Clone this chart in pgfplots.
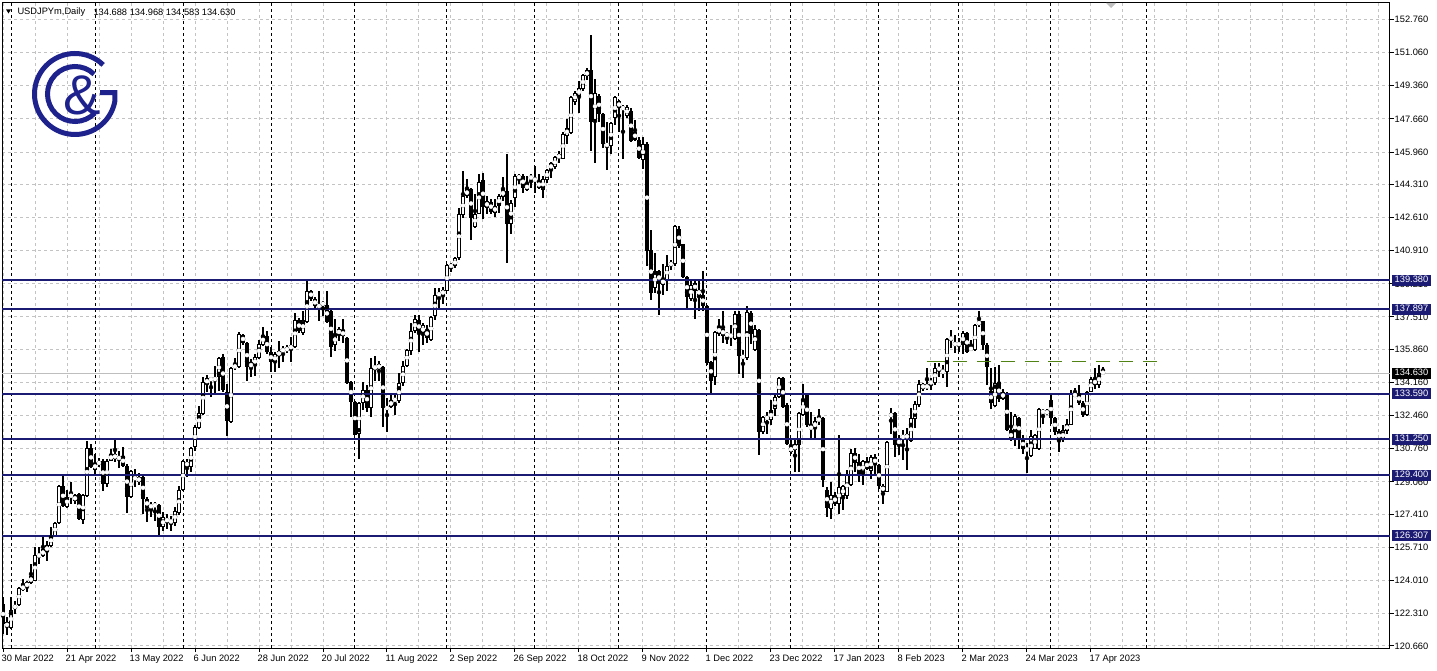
\documentclass[border=0pt]{standalone}
\usepackage{fontspec}
\setmainfont{Liberation Sans}
\usepackage{pgfplots}
\pgfplotsset{compat=1.18}
\usepackage{pgfplotstable}

\definecolor{lvl}{RGB}{27,27,115}
\definecolor{logoc}{RGB}{30,34,140}
\definecolor{grd}{RGB}{195,195,195}
\definecolor{grn}{RGB}{80,130,20}
\definecolor{pline}{RGB}{190,190,190}

\pgfplotstableread{
i o h l c
0 122.81 123.15 121.27 121.78
1 121.87 122.12 121.24 121.61
2 121.58 123.15 121.53 122.50
3 122.55 122.98 122.29 122.77
4 122.76 123.66 122.72 123.61
5 123.54 124.09 123.49 123.75
6 123.66 123.98 123.40 123.92
7 123.86 124.85 123.83 124.26
8 124.00 125.71 123.97 125.33
9 125.26 125.71 124.85 125.33
10 125.26 126.25 125.20 125.62
11 125.45 126.05 125.03 125.83
12 125.79 126.73 125.71 126.34
13 126.30 126.99 126.22 126.94
14 126.94 128.92 126.90 128.86
15 128.86 129.38 127.76 127.84
16 127.79 128.64 127.70 128.30
17 128.27 129.04 127.93 128.44
18 128.39 128.44 127.93 128.06
19 128.44 128.52 127.11 127.16
20 127.12 128.44 126.90 128.39
21 128.35 131.17 128.27 130.79
22 130.79 130.98 129.77 129.84
23 129.67 130.49 129.46 130.04
24 130.06 130.28 129.80 130.01
25 130.11 130.23 128.61 128.98
26 128.98 130.23 128.78 130.14
27 130.14 130.74 130.11 130.49
28 130.49 131.31 130.09 130.23
29 130.18 130.66 129.80 130.40
30 130.40 130.83 129.80 129.89
31 129.89 129.97 127.45 128.27
32 128.27 129.67 128.22 129.63
33 129.30 129.73 128.80 129.20
34 129.04 129.50 128.90 129.33
35 129.33 129.38 127.42 128.19
36 128.19 128.27 126.99 127.73
37 127.73 128.02 127.25 127.90
38 127.88 128.02 127.08 127.85
39 127.90 127.93 126.31 126.77
40 126.74 127.50 126.56 127.25
41 127.16 127.42 126.65 127.04
42 127.08 127.33 126.56 126.99
43 126.94 127.76 126.82 127.59
44 127.45 128.87 127.38 128.65
45 128.65 130.19 128.62 130.12
46 130.10 130.24 129.30 129.85
47 129.81 130.87 129.56 130.80
48 130.84 132.00 130.67 131.90
49 131.83 132.97 131.78 132.58
50 132.55 134.43 132.51 134.19
51 134.08 134.56 133.66 134.36
52 134.29 134.43 133.40 134.36
53 134.27 135.02 133.57 134.39
54 134.43 135.45 133.74 135.42
55 135.45 135.59 133.66 133.78
56 133.66 134.08 131.44 132.20
57 132.12 134.94 132.07 134.90
58 134.90 135.42 134.77 135.06
59 134.94 136.73 134.90 136.65
60 136.60 136.65 136.05 136.17
61 136.17 136.22 134.25 134.94
62 134.90 135.37 134.43 135.19
63 135.02 135.62 134.51 135.45
64 135.42 136.31 135.37 136.13
65 136.08 136.99 136.05 136.60
66 136.53 136.78 135.62 135.71
67 135.71 135.97 134.68 135.19
68 135.19 135.74 134.71 135.60
69 135.49 136.29 134.88 135.79
70 135.74 136.00 135.23 135.88
71 135.78 136.09 135.66 135.95
72 135.88 136.51 135.23 136.05
73 135.95 137.71 135.91 137.37
74 137.37 137.46 136.69 136.77
75 136.69 137.80 136.60 137.37
76 137.25 139.34 137.20 138.86
77 138.86 138.91 138.31 138.45
78 138.45 138.52 137.97 138.06
79 137.97 138.83 137.32 138.18
80 138.09 138.35 137.54 138.28
81 138.14 138.83 137.20 137.25
82 137.83 137.88 135.45 135.98
83 136.09 137.42 135.78 136.60
84 136.60 136.98 136.26 136.89
85 136.82 137.42 136.17 136.53
86 136.46 136.51 134.06 134.11
87 134.17 134.23 132.40 133.17
88 133.17 133.20 131.46 131.49
89 131.54 133.17 130.26 133.09
90 133.09 134.20 132.74 133.77
91 133.77 134.03 132.66 132.83
92 132.83 135.40 132.40 134.88
93 134.88 135.52 134.23 134.97
94 134.85 135.26 134.23 135.09
95 134.97 135.02 131.89 132.83
96 132.79 133.34 131.63 132.91
97 132.91 133.51 132.83 133.26
98 133.20 133.60 132.49 133.34
99 133.20 134.63 133.09 134.11
100 134.11 135.23 134.00 135.02
101 135.02 135.88 134.97 135.83
102 135.79 137.20 135.57 136.80
103 136.77 137.59 136.68 137.42
104 137.37 137.63 135.74 136.68
105 136.68 137.20 136.08 137.08
106 136.91 137.11 136.17 136.42
107 136.34 137.54 136.29 137.49
108 137.54 139.00 137.37 138.62
109 138.62 139.00 137.97 138.74
110 138.62 139.03 138.18 138.91
111 138.86 140.20 138.83 140.15
112 140.15 140.28 139.82 140.10
113 140.10 140.57 140.03 140.51
114 140.51 143.11 140.45 142.77
115 142.73 145.00 142.60 143.71
116 143.71 144.57 143.63 144.05
117 144.05 144.14 141.43 142.60
118 142.12 143.80 142.08 142.77
119 142.80 144.83 142.77 144.45
120 144.52 144.91 142.51 143.13
121 143.11 143.71 142.77 143.45
122 143.42 143.54 142.77 142.91
123 142.85 143.54 142.63 143.20
124 143.20 143.80 142.85 143.71
125 143.66 144.69 143.45 144.05
126 143.97 145.85 140.28 142.29
127 142.25 143.49 141.74 143.37
128 143.59 144.83 143.15 144.74
129 144.57 144.86 144.31 144.79
130 144.74 144.83 143.88 144.14
131 144.00 144.74 143.97 144.35
132 144.57 144.83 144.11 144.74
133 144.57 145.25 143.88 144.52
134 144.48 144.83 144.05 144.11
135 144.02 144.75 143.60 144.60
136 144.53 145.11 144.39 145.05
137 145.05 145.46 144.65 145.39
138 145.17 145.77 145.11 145.71
139 145.63 146.02 145.42 145.85
140 145.63 146.97 145.59 146.91
141 146.79 147.65 146.37 147.19
142 146.93 148.82 146.88 148.76
143 148.54 149.11 148.37 148.99
144 148.85 149.62 147.96 149.23
145 149.19 149.96 149.11 149.91
146 149.84 150.26 149.67 150.14
147 150.14 151.94 146.02 147.51
148 147.62 149.71 145.39 148.99
149 148.85 148.94 147.48 147.91
150 147.91 147.96 146.19 146.37
151 146.37 147.48 145.05 146.28
152 146.25 147.51 145.85 147.45
153 147.68 148.85 147.34 148.76
154 148.59 148.64 147.00 148.20
155 148.17 148.37 145.63 148.25
156 147.82 148.37 147.68 148.25
157 148.08 148.20 146.45 146.54
158 147.00 147.62 146.54 146.59
159 146.59 146.71 145.59 145.68
160 145.56 146.71 145.11 146.37
161 146.37 146.45 140.14 140.88
162 140.93 141.99 138.39 138.74
163 139.00 140.79 138.74 139.85
164 139.85 139.94 137.62 139.22
165 139.17 140.25 138.65 139.46
166 139.42 140.71 138.82 140.14
167 140.14 140.45 139.94 140.31
168 140.25 142.20 140.11 142.17
169 142.00 142.17 141.05 141.14
170 141.23 141.26 139.51 139.55
171 139.55 139.60 137.97 138.52
172 138.45 139.34 138.35 139.13
173 139.25 139.34 137.42 138.86
174 138.89 139.34 137.80 138.65
175 138.65 139.87 137.80 138.05
176 138.05 138.11 135.06 135.14
177 135.23 135.26 133.55 134.23
178 134.42 136.77 134.03 136.74
179 136.63 137.42 136.56 137.03
180 136.91 137.80 136.17 136.55
181 136.53 136.74 136.12 136.67
182 136.60 137.11 136.00 136.51
183 136.39 137.83 136.34 137.66
184 137.66 137.80 134.58 135.52
185 135.54 135.83 134.40 135.40
186 135.40 138.05 135.31 137.76
187 137.71 137.80 136.12 136.63
188 135.83 137.11 135.78 136.91
189 136.86 136.91 130.46 131.63
190 131.63 132.45 131.54 132.40
191 132.40 132.66 131.54 132.28
192 132.23 133.26 131.97 132.74
193 132.79 133.55 132.45 133.43
194 133.43 134.46 133.34 134.40
195 134.40 134.46 132.83 132.91
196 133.00 133.08 130.94 131.03
197 130.86 131.29 130.51 130.60
198 130.69 131.25 129.57 130.98
199 130.94 132.66 129.57 132.57
200 132.49 134.06 132.45 133.31
201 133.55 133.60 131.88 131.97
202 131.88 132.66 131.25 131.80
203 131.80 132.40 131.28 132.17
204 132.17 132.79 131.97 132.34
205 132.34 132.40 128.80 129.14
206 128.63 128.80 127.26 127.72
207 127.68 129.05 127.14 128.40
208 128.37 128.54 127.85 127.94
209 127.94 131.49 127.43 128.80
210 128.33 128.92 127.60 128.83
211 128.33 129.65 128.20 129.43
212 128.92 130.77 128.85 130.56
213 130.56 130.80 129.57 130.05
214 130.08 130.51 129.05 129.48
215 129.48 130.17 128.92 130.12
216 130.12 130.34 129.65 129.74
217 129.60 130.43 129.23 130.34
218 130.34 130.51 129.48 129.95
219 129.95 130.00 128.71 128.85
220 128.85 128.97 127.94 128.57
221 128.57 131.15 128.54 131.11
222 132.40 132.86 131.54 132.57
223 132.57 132.65 130.34 130.94
224 130.94 131.45 130.46 131.28
225 131.25 131.71 130.17 131.49
226 131.25 131.80 129.65 131.54
227 131.15 132.86 131.11 132.34
228 132.31 133.20 131.80 133.03
229 133.00 134.28 132.91 134.06
230 134.06 134.11 133.72 133.85
231 133.85 134.88 133.77 134.06
232 134.20 134.37 133.77 134.11
233 134.11 135.14 134.02 134.92
234 134.80 135.14 134.45 134.92
235 134.80 135.05 134.40 134.62
236 134.68 136.46 133.94 136.39
237 136.39 136.85 135.91 136.42
238 136.17 136.60 135.65 136.08
239 136.17 136.42 135.74 136.08
240 136.08 136.80 135.60 136.68
241 136.68 136.73 135.65 135.74
242 135.94 136.34 135.77 135.82
243 135.82 137.14 135.77 137.11
244 137.08 137.80 137.02 137.32
245 137.28 137.32 135.82 136.08
246 136.08 136.17 134.03 134.97
247 133.72 134.88 132.82 133.08
248 132.96 134.97 132.91 134.11
249 134.16 135.05 133.17 133.31
250 133.31 133.82 133.25 133.68
251 133.60 133.65 131.66 131.71
252 131.71 132.65 131.15 131.20
253 131.28 132.52 130.91 132.45
254 132.34 132.40 130.77 131.28
255 131.28 131.49 130.51 130.73
256 130.77 131.03 129.53 130.68
257 130.39 131.71 130.34 131.42
258 130.77 131.54 130.73 131.45
259 130.73 132.86 130.68 132.79
260 132.57 132.82 132.05 132.74
261 132.57 132.82 132.48 132.69
262 133.25 133.51 132.05 132.34
263 132.34 132.40 131.49 131.62
264 131.66 131.76 130.60 131.20
265 131.20 131.97 131.11 131.71
266 131.66 132.31 131.54 132.05
267 132.00 133.77 131.97 133.55
268 133.48 133.89 133.44 133.55
269 133.60 134.03 133.00 133.08
270 133.08 133.20 132.40 132.48
271 132.48 133.72 132.45 133.68
272 133.68 134.45 133.65 134.33
273 134.33 134.88 133.82 134.03
274 134.03 135.05 133.89 134.62
275 134.688 134.968 134.583 134.630
}\candles

\begin{document}
\begin{tikzpicture}[font=\fontsize{9.3}{10}\selectfont]
\useasboundingbox (-2pt,-22pt) rectangle (1435pt,648pt);
\begin{axis}[
  at={(0pt,0pt)}, anchor=south west,
  scale only axis, width=1388pt, height=645pt,
  xmin=-0.25, xmax=346.75, ymin=120.553, ymax=153.595,
  axis line style={black, line width=1pt},
  xtick pos=bottom, ytick pos=right,
  tick align=outside,
  major tick length=4pt, minor tick length=0pt,
  tick style={black, line width=1pt},
  xtick={0,16,...,272},
  xticklabels={30 Mar 2022,21 Apr 2022,13 May 2022,6 Jun 2022,28 Jun 2022,20 Jul 2022,11 Aug 2022,2 Sep 2022,26 Sep 2022,18 Oct 2022,9 Nov 2022,1 Dec 2022,23 Dec 2022,17 Jan 2023,8 Feb 2023,2 Mar 2023,24 Mar 2023,17 Apr 2023},
  minor xtick={8,24,40,56,72,88,104,120,136,152,168,184,200,216,232,248,264,280,288,296,304,312,320,328,336,344},
  ytick={152.76,151.06,149.36,147.66,145.96,144.31,142.61,140.91,139.21,137.51,135.86,134.16,132.46,130.76,129.06,127.41,125.71,124.01,122.31,120.66},
  yticklabels={152.760,151.060,149.360,147.660,145.960,144.310,142.610,140.910,139.210,137.510,135.860,134.160,132.460,130.760,129.060,127.410,125.710,124.010,122.310,120.660},
  grid=both,
  major grid style={grd, line width=1pt, dash pattern=on 3pt off 3pt},
  minor grid style={grd, line width=1pt, dash pattern=on 3pt off 3pt},
  ticklabel style={font=\fontsize{9.3}{10}\selectfont},
  xticklabel style={anchor=north west, inner sep=0pt, xshift=-1.5pt, yshift=-3pt},
  yticklabel style={anchor=west, inner sep=0pt, xshift=0.5pt},
  extra x ticks={2,23,45,67,88,111,133,154,176,197,219,239,262,286},
  extra x tick labels={},
  extra x tick style={grid=major, major tick length=0pt, major grid style={black, line width=1pt, dash pattern=on 3pt off 3pt}},
]
\addplot[pline, line width=1pt, forget plot] coordinates {(-0.25,134.63) (346.75,134.63)};
% wicks
\addplot[black, only marks, mark=none, forget plot,
  error bars/.cd, y dir=both, y explicit, error mark=none,
  error bar style={line width=1.1pt, draw=black}]
  table[x=i, y expr={(\thisrow{h}+\thisrow{l})/2}, y error expr={(\thisrow{h}-\thisrow{l})/2}] {\candles};
% bodies
\addplot[black, only marks, mark=none, forget plot,
  error bars/.cd, y dir=both, y explicit, error mark=none,
  error bar style={line width=3.2pt, draw=black}]
  table[x=i, y expr={(\thisrow{o}+\thisrow{c})/2}, y error expr={max(abs(\thisrow{o}-\thisrow{c})/2,0.026)}] {\candles};
% bullish interiors
\addplot[white, only marks, mark=none, forget plot,
  error bars/.cd, y dir=both, y explicit, error mark=none,
  error bar style={line width=1.1pt, draw=white}]
  table[x=i, y expr={(\thisrow{o}+\thisrow{c})/2}, y error expr={max((\thisrow{c}-\thisrow{o})/2-0.051,0)}] {\candles};
% levels
\addplot[lvl, line width=2pt, forget plot] coordinates {(-0.25,139.38) (346.75,139.38)};
\addplot[lvl, line width=2pt, forget plot] coordinates {(-0.25,137.897) (346.75,137.897)};
\addplot[lvl, line width=2pt, forget plot] coordinates {(-0.25,133.59) (346.75,133.59)};
\addplot[lvl, line width=2pt, forget plot] coordinates {(-0.25,131.25) (346.75,131.25)};
\addplot[lvl, line width=2pt, forget plot] coordinates {(-0.25,129.40) (346.75,129.40)};
\addplot[lvl, line width=2pt, forget plot] coordinates {(-0.25,126.307) (346.75,126.307)};
\addplot[grn, line width=1pt, forget plot] coordinates {(231,135.22) (235.5,135.22)};
\addplot[grn, line width=1pt, forget plot, dash pattern=on 14pt off 9.7pt] coordinates {(237.6,135.22) (288.75,135.22)};
\coordinate (b1) at (axis cs:346.75,139.38);
\coordinate (b2) at (axis cs:346.75,137.897);
\coordinate (b3) at (axis cs:346.75,133.59);
\coordinate (b4) at (axis cs:346.75,131.25);
\coordinate (b5) at (axis cs:346.75,129.40);
\coordinate (b6) at (axis cs:346.75,126.307);
\coordinate (bp) at (axis cs:346.75,134.63);
\end{axis}
% right level labels
\foreach \n/\t in {b1/139.380, b2/137.897, b3/133.590, b4/131.250, b5/129.400, b6/126.307}
  \node[fill=lvl, text=white, anchor=west, inner xsep=2.5pt, inner ysep=0pt, text height=8pt, text depth=3pt, xshift=2pt] at (\n) {\t};
\node[fill=black, text=white, anchor=west, inner xsep=2.5pt, inner ysep=0pt, text height=8pt, text depth=3pt, xshift=2pt] at (bp) {134.630};
% header
\fill (4pt,638.7pt) -- (9pt,638.7pt) -- (6.5pt,634.5pt) -- cycle;
\node[anchor=west, inner sep=0pt] at (15.3pt,636pt) {USDJPYm,Daily};
\node[anchor=west, inner sep=0pt] at (91.3pt,636pt) {134.688};
\node[anchor=west, inner sep=0pt] at (127.6pt,636pt) {134.968};
\node[anchor=west, inner sep=0pt] at (163.7pt,636pt) {134.583};
\node[anchor=west, inner sep=0pt] at (199.7pt,636pt) {134.630};
\fill[black!25] (1104pt,645pt) -- (1114pt,645pt) -- (1109pt,640pt) -- cycle;
% logo
\begin{scope}[draw=logoc, line width=5pt]
\draw (73pt,554pt) ++(46:40.5pt) arc[start angle=46, end angle=350, radius=40.5pt] -- ++(0pt,8.3pt) -- (98pt,555.3pt);
\draw (73pt,554pt) ++(46:27.5pt) arc[start angle=46, end angle=316, radius=27.5pt];
\end{scope}
\node[text=logoc, font=\fontsize{56}{56}\selectfont, inner sep=0pt] at (80pt,553pt) {\&};
\end{tikzpicture}
\end{document}
